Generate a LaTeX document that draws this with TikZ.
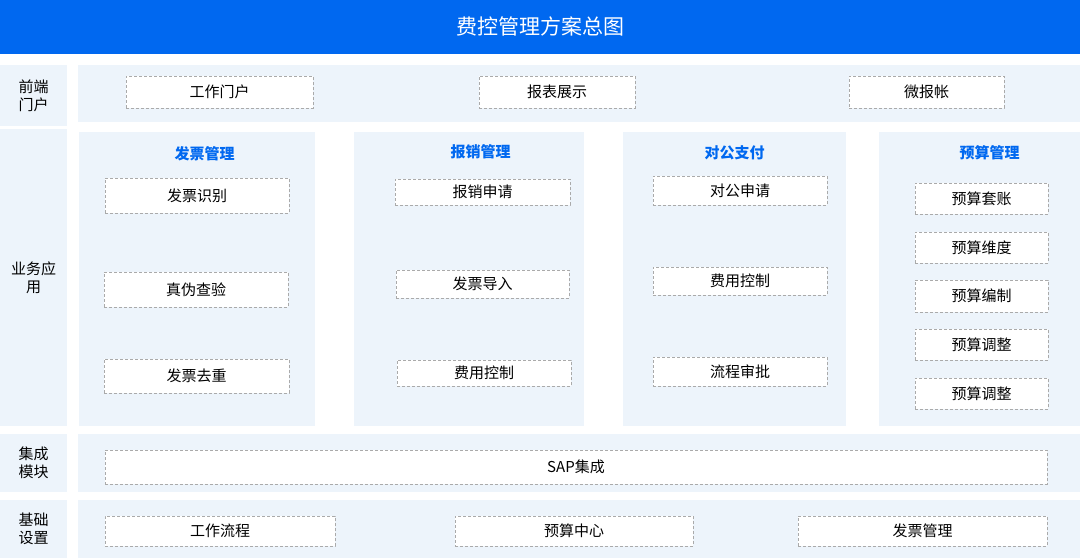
\documentclass[tikz,border=0pt]{standalone}
\usepackage{fontspec}
\setmainfont{Noto Sans CJK SC}
\usepackage{xcolor}
\usepackage{tikz}
\usetikzlibrary{positioning}
\definecolor{fkBlue}{RGB}{0,104,240}
\definecolor{fkPanel}{RGB}{237,244,251}
\definecolor{fkDash}{RGB}{170,170,170}

\begin{document}
\begin{tikzpicture}[x=1pt, y=-1pt,
  panel/.style={fill=fkPanel, inner sep=0pt, anchor=north west},
  item/.style={draw=fkDash, dash pattern=on 3pt off 2pt, fill=white, inner sep=0pt, font=\fontsize{15}{18}\selectfont},
  rowlabel/.style={align=center, font=\fontsize{15}{18}\selectfont},
  coltitle/.style={text=fkBlue, font=\fontsize{15}{18}\selectfont\bfseries}]
  \useasboundingbox (0,0) rectangle (1080,558);
  % title bar
  \node[fill=fkBlue, inner sep=0pt, anchor=north west, minimum width=1080pt, minimum height=54pt] (bar) at (0,0) {};
  \node[text=white, font=\fontsize{21}{25}\selectfont] (title) at (540,26) {费控管理方案总图};

  % left labels
  \node[panel, minimum width=67pt, minimum height=61pt] (lbFront) at (0,65) {};
  \node[panel, minimum width=67pt, minimum height=297pt] (lbBiz) at (0,129) {};
  \node[panel, minimum width=67pt, minimum height=58pt] (lbInt) at (0,434) {};
  \node[panel, minimum width=67pt, minimum height=58pt] (lbBase) at (0,500) {};
  \node[rowlabel] at (lbFront) {前端\\门户};
  \node[rowlabel] at (lbBiz) {业务应\\用};
  \node[rowlabel] at (lbInt) {集成\\模块};
  \node[rowlabel] at (lbBase) {基础\\设置};

  % row backgrounds
  \node[panel, minimum width=1002pt, minimum height=57pt] (rowFront) at (78,65) {};
  \node[panel, minimum width=1002pt, minimum height=58pt] (rowInt) at (78,434) {};
  \node[panel, minimum width=1002pt, minimum height=58pt] (rowBase) at (78,500) {};

  % 前端门户
  \node[item, minimum width=187pt, minimum height=32pt] (gzmh) at (219.5,92) {工作门户};
  \node[item, minimum width=156pt, minimum height=32pt] (bbzs) at (557,92) {报表展示};
  \node[item, minimum width=155pt, minimum height=32pt] (wbz) at (926.5,92) {微报帐};

  % 业务应用 columns
  \node[panel, minimum width=236pt, minimum height=294pt] (colFp) at (79,132) {};
  \node[panel, minimum width=230pt, minimum height=294pt] (colBx) at (354,132) {};
  \node[panel, minimum width=223pt, minimum height=294pt] (colDg) at (623,132) {};
  \node[panel, minimum width=201pt, minimum height=294pt] (colYs) at (879,132) {};

  \node[coltitle] (tFp) at (204.5,154) {发票管理};
  \node[coltitle] (tBx) at (480.5,152) {报销管理};
  \node[coltitle] (tDg) at (734.5,153) {对公支付};
  \node[coltitle] (tYs) at (989.5,153) {预算管理};

  \node[item, minimum width=184pt, minimum height=35pt] (fpsb) at (197,195.5) {发票识别};
  \node[item, minimum width=184pt, minimum height=35pt] (zwcy) at (196,289.5) {真伪查验};
  \node[item, minimum width=185pt, minimum height=34pt] (fpqc) at (196.5,376) {发票去重};

  \node[item, minimum width=175pt, minimum height=26pt] (bxsq) at (482.5,192) {报销申请};
  \node[item, minimum width=173pt, minimum height=28pt] (fpdr) at (482.5,284) {发票导入};
  \node[item, minimum width=174pt, minimum height=26pt] (fykzA) at (484,373) {费用控制};

  \node[item, minimum width=174pt, minimum height=29pt] (dgsq) at (740,190.5) {对公申请};
  \node[item, minimum width=174pt, minimum height=28pt] (fykzB) at (740,281) {费用控制};
  \node[item, minimum width=174pt, minimum height=29pt] (lcsp) at (740,371.5) {流程审批};

  \node[item, minimum width=133pt, minimum height=31pt] (ystz) at (981.5,198.5) {预算套账};
  \node[item, minimum width=133pt, minimum height=31pt] (yswd) at (981.5,247.5) {预算维度};
  \node[item, minimum width=133pt, minimum height=32pt] (ysbz) at (981.5,296) {预算编制};
  \node[item, minimum width=133pt, minimum height=31pt] (ystzA) at (981.5,344.5) {预算调整};
  \node[item, minimum width=133pt, minimum height=31pt] (ystzB) at (981.5,393.5) {预算调整};

  % 集成模块
  \node[item, minimum width=942pt, minimum height=34pt] (sap) at (576,467) {SAP集成};

  % 基础设置
  \node[item, minimum width=230pt, minimum height=30pt] (gzlc) at (220,531) {工作流程};
  \node[item, minimum width=238pt, minimum height=30pt] (yszx) at (574,531) {预算中心};
  \node[item, minimum width=249pt, minimum height=30pt] (fpgl) at (922.5,531) {发票管理};
\end{tikzpicture}
\end{document}
